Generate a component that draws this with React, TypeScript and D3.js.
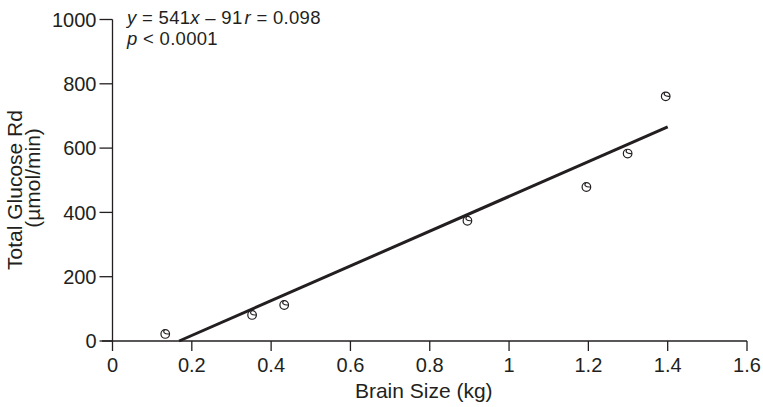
import * as d3 from "d3";

// brain size (kg) vs total glucose Rd (µmol/min)
const brainSize = [0.133, 0.352, 0.433, 0.895, 1.195, 1.299, 1.395];
const glucoseRd = [22, 81, 112, 374, 479, 583, 761];

// regression line endpoints (y = 541x - 91)
const fitX = [0.168, 1.4];
const fitY = [0, 666];

const xTicks = [0, 0.2, 0.4, 0.6, 0.8, 1, 1.2, 1.4, 1.6];
const yTicks = [0, 200, 400, 600, 800, 1000];

const width = 763;
const height = 407;
const ink = "#231f20";
const font = "'Liberation Sans', Arial, Helvetica, sans-serif";

const App = () => {
  const x = d3.scaleLinear().domain([0, 1.6]).range([112.5, 747]);
  const y = d3.scaleLinear().domain([0, 1000]).range([341, 19.5]);

  const line = d3
    .line<number>()
    .x((d) => x(d))
    .y((_, i) => y(fitY[i]));

  const points = brainSize.map((b, i) => ({ b, g: glucoseRd[i] }));

  return (
    <svg
      width={width}
      height={height}
      style={{ position: "absolute", left: 0, top: 0, background: "#fff" }}
      fontFamily={font}
      fill={ink}
    >
      {/* axes */}
      <line x1={102} x2={x(1.6)} y1={y(0)} y2={y(0)} stroke={ink} strokeWidth={1.3} />
      <line x1={x(0)} x2={x(0)} y1={y(1000)} y2={y(0)} stroke={ink} strokeWidth={1.3} />

      {xTicks.map((t) => (
        <g key={"x" + t} transform={`translate(${x(t)},${y(0)})`}>
          <line y1={0} y2={10} stroke={ink} strokeWidth={1.3} />
          <text y={30.5} textAnchor="middle" fontSize={20}>
            {t}
          </text>
        </g>
      ))}

      {yTicks.map((t) => (
        <g key={"y" + t} transform={`translate(${x(0)},${y(t)})`}>
          <line x1={-13} x2={0} stroke={ink} strokeWidth={1.3} />
          <text x={-16} dy="0.36em" textAnchor="end" fontSize={20}>
            {t}
          </text>
        </g>
      ))}

      <text x={x(0.8) - 6} y={398} textAnchor="middle" fontSize={21}>
        Brain Size (kg)
      </text>

      <text transform="translate(22,190) rotate(-90)" textAnchor="middle" fontSize={21}>
        Total Glucose Rd
      </text>
      <text transform="translate(39.5,178) rotate(-90)" textAnchor="middle" fontSize={21}>
        (µmol/min)
      </text>

      {/* annotation */}
      <text x={127} y={24} fontSize={18.5} letterSpacing={0.3}>
        <tspan fontStyle="italic">y</tspan> = 541<tspan fontStyle="italic">x</tspan> – 91
        <tspan fontStyle="italic" dx={2}>r</tspan> = 0.098
      </text>
      <text x={127} y={45} fontSize={18.5} letterSpacing={0.3}>
        <tspan fontStyle="italic">p</tspan> &lt; 0.0001
      </text>

      {/* regression line */}
      <path d={line(fitX) ?? ""} fill="none" stroke={ink} strokeWidth={3} />

      {/* data points */}
      {points.map((p, i) => (
        <g key={i} transform={`translate(${x(p.b)},${y(p.g)})`}>
          <circle r={4.3} fill="#fff" stroke={ink} strokeWidth={1.2} />
          <path
            d="M-0.6,-4.2 C-2.6,-2 -1.2,0.4 4.2,0"
            fill="none"
            stroke={ink}
            strokeWidth={1.1}
          />
        </g>
      ))}
    </svg>
  );
};

export default App;
